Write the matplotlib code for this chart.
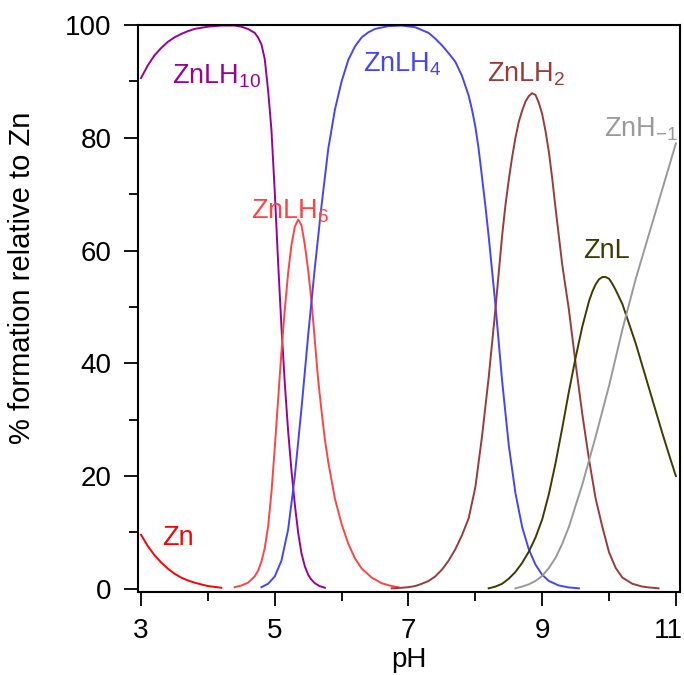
import matplotlib
matplotlib.use("Agg")
import matplotlib.pyplot as plt
import matplotlib.transforms as mtransforms

plt.rcParams['font.family'] = ['Liberation Sans', 'DejaVu Sans']
plt.rcParams['mathtext.default'] = 'regular'

# species distribution (pH, % formation)
zn_x = [3.0, 3.1, 3.2, 3.3, 3.4, 3.5, 3.6, 3.7, 3.8, 3.9, 4.0, 4.1, 4.2]
zn_y = [9.6, 7.6, 6.0, 4.7, 3.6, 2.7, 2.0, 1.5, 1.1, 0.8, 0.5, 0.35, 0.2]

lh10_x = [3.0, 3.1, 3.2, 3.3, 3.4, 3.5, 3.6, 3.7, 3.8, 3.9, 4.0, 4.2, 4.4, 4.5,
          4.6, 4.7, 4.75, 4.8, 4.85, 4.9, 4.95, 5.0, 5.05, 5.1, 5.15, 5.2, 5.25,
          5.3, 5.35, 5.4, 5.45, 5.5, 5.55, 5.6, 5.67, 5.75]
lh10_y = [90.6, 92.8, 94.6, 95.9, 97.0, 97.8, 98.4, 98.9, 99.3, 99.5, 99.7, 99.9,
          99.9, 99.7, 99.3, 98.6, 97.8, 96.6, 94.0, 88.5, 81.5, 70.5, 58, 46.5,
          36.5, 28, 21, 15, 10, 6.3, 4.0, 2.5, 1.6, 1.0, 0.5, 0.2]

lh6_x = [4.4, 4.5, 4.6, 4.7, 4.75, 4.8, 4.85, 4.9, 4.95, 5.0, 5.05, 5.1, 5.15,
         5.2, 5.25, 5.3, 5.35, 5.4, 5.45, 5.5, 5.55, 5.6, 5.65, 5.7, 5.75, 5.8,
         5.9, 6.0, 6.1, 6.2, 6.3, 6.45, 6.6, 6.75, 6.85]
lh6_y = [0.3, 0.6, 1.1, 2.2, 3.2, 4.8, 7.2, 11, 17, 25, 33.5, 42, 49.5, 56, 61,
         64.2, 65.5, 64.5, 61, 56.5, 51, 44, 37, 31.5, 26.5, 22.5, 16, 11.5, 8,
         5.4, 3.6, 2.0, 1.0, 0.5, 0.3]

lh4_x = [4.8, 4.9, 5.0, 5.1, 5.2, 5.3, 5.4, 5.5, 5.6, 5.7, 5.8, 5.9, 6.0, 6.1,
         6.2, 6.3, 6.4, 6.5, 6.7, 6.9, 7.1, 7.3, 7.4, 7.5, 7.6, 7.7, 7.8, 7.9,
         7.95, 8.0, 8.05, 8.1, 8.15, 8.2, 8.3, 8.4, 8.5, 8.6, 8.7, 8.8, 8.9, 9.0,
         9.1, 9.25, 9.4, 9.55]
lh4_y = [0.3, 0.9, 2.2, 5, 10.5, 20, 32, 45, 57, 68, 78, 85, 90, 93.8, 96.2, 97.8,
         98.7, 99.3, 99.8, 99.9, 99.6, 98.6, 97.6, 96.4, 95.0, 93.5, 91, 87.5,
         85, 82, 78, 73, 68, 62.5, 50.5, 37, 25.5, 17, 11, 7, 4.3, 2.5, 1.4, 0.6,
         0.25, 0.1]

lh2_x = [6.75, 6.9, 7.0, 7.1, 7.2, 7.3, 7.4, 7.5, 7.6, 7.7, 7.8, 7.9, 8.0, 8.1,
         8.2, 8.3, 8.4, 8.45, 8.5, 8.55, 8.6, 8.65, 8.7, 8.75, 8.8, 8.85, 8.9,
         8.95, 9.0, 9.05, 9.1, 9.15, 9.2, 9.3, 9.4, 9.5, 9.6, 9.7, 9.8, 9.9, 10.0,
         10.1, 10.2, 10.35, 10.5, 10.6, 10.74]
lh2_y = [0.1, 0.2, 0.3, 0.5, 0.9, 1.4, 2.2, 3.4, 5, 7, 9.5, 12.5, 18, 27, 37.5,
         49.5, 62.5, 68, 72.5, 76.5, 80, 82.8, 84.8, 86.4, 87.4, 87.9, 87.6, 86.2,
         84.2, 81.2, 77.5, 72.8, 67.5, 57.5, 49.5, 40, 31, 23, 16, 11, 6.5, 3.7,
         2.0, 0.9, 0.4, 0.25, 0.1]

znl_x = [8.2, 8.3, 8.4, 8.5, 8.6, 8.7, 8.8, 8.9, 9.0, 9.1, 9.2, 9.3, 9.4, 9.5,
         9.6, 9.7, 9.75, 9.8, 9.85, 9.9, 9.95, 10.0, 10.05, 10.1, 10.2, 10.3,
         10.4, 10.5, 10.6, 10.7, 10.8, 10.9, 11.0]
znl_y = [0.1, 0.4, 0.9, 1.8, 3, 4.6, 6.6, 9.1, 12.3, 16.8, 22.3, 28.5, 35, 41,
         46.5, 51, 52.7, 54, 54.9, 55.3, 55.3, 55, 54.1, 53, 50.5, 47, 43.5, 39.5,
         35.5, 31.5, 27.5, 23.7, 20]

znh_x = [8.6, 8.7, 8.8, 8.9, 9.0, 9.1, 9.2, 9.3, 9.4, 9.6, 9.8, 10.0, 10.2, 10.4,
         10.6, 10.8, 11.0]
znh_y = [0.1, 0.4, 0.8, 1.4, 2.3, 3.7, 5.5, 8.0, 11, 18.5, 27, 36, 46, 55, 63,
         71, 79]

labels = ['Zn', 'ZnLH$_{10}$', 'ZnLH$_{6}$', 'ZnLH$_{4}$', 'ZnLH$_{2}$', 'ZnL', 'ZnH$_{-1}$']
colors = ['#ff0000', '#990099', '#ff4444', '#4444ff', '#993b3b', '#3c3c00', '#999999']
label_pos = [(3.31, 7.8), (3.46, 89.7), (4.65, 65.7), (6.32, 91.7), (8.18, 90.0),
             (9.61, 58.6), (9.92, 80.2)]

series = [(zn_x, zn_y), (lh10_x, lh10_y), (lh6_x, lh6_y), (lh4_x, lh4_y),
          (lh2_x, lh2_y), (znl_x, znl_y), (znh_x, znh_y)]

fig = plt.figure(figsize=(6.84, 6.75), dpi=100)
ax = fig.add_axes([0.2013, 0.123, 0.7927, 0.840])

for (x, y), c, lab, (tx, ty) in zip(series, colors, labels, label_pos):
    ax.plot(x, y, color=c, lw=1.4)
    ax.text(tx, ty, lab, color=c, fontsize=19.5, ha='left', va='baseline')

ax.set_xlim(2.95, 11.06)
ax.set_ylim(-0.55, 100)
ax.set_xticks([3, 5, 7, 9, 11])
ax.set_xticks([4, 6, 8, 10], minor=True)
ax.set_yticks([0, 20, 40, 60, 80, 100])
ax.set_yticks([10, 30, 50, 70, 90], minor=True)

for s in ax.spines.values():
    s.set_linewidth(1.5)
ax.tick_params(which='major', length=10, width=1.3, labelsize=20, pad=9)
ax.tick_params(which='minor', length=6.5, width=1.3)

# keep the "11" label inside the picture
last = ax.get_xticklabels()[-1]
last.set_transform(last.get_transform() +
                   mtransforms.ScaledTranslation(-8 / 100, 0, fig.dpi_scale_trans))

ax.set_xlabel('pH', fontsize=20)
ax.set_ylabel('% formation relative to Zn', fontsize=21)
ax.yaxis.set_label_coords(-0.188, 0.554)
ax.xaxis.set_label_coords(0.5, -0.097)

fig.savefig('out.png', dpi=100)
